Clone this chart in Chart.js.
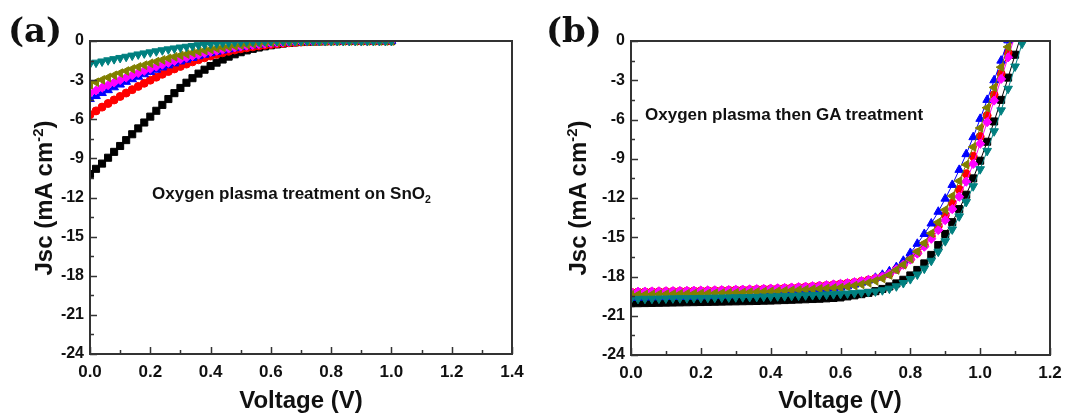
<!DOCTYPE html>
<html>
<head>
<meta charset="utf-8">
<script src="https://cdn.jsdelivr.net/npm/chart.js@4.4.1/dist/chart.umd.min.js"></script>
<style>
body { margin: 0; background: #fff; width: 1072px; height: 417px; overflow: hidden; position: relative; font-family: "Liberation Sans", Arial, sans-serif; }
.panel { position: absolute; top: 0; width: 536px; height: 417px; }
.lbl { position: absolute; font-weight: bold; color: #111; white-space: nowrap; line-height: 1.15; }
.letter { font-family: "DejaVu Serif", serif; font-size: 34px; }
.ytitle { font-size: 24px; transform: translate(-50%, -50%) rotate(-90deg); }
.xtitle { font-size: 24px; transform: translateX(-50%); }
.note { font-size: 17px; }
sup, sub { font-size: 0.62em; line-height: 0; }
</style>
</head>
<body>
<div class="panel" style="left:0"><canvas id="chartA" width="536" height="417"></canvas></div>
<div class="panel" style="left:536px"><canvas id="chartB" width="536" height="417"></canvas></div>

<div class="lbl letter" style="left:8px; top:11px">(a)</div>
<div class="lbl ytitle" style="left:44px; top:198px">Jsc (mA cm<sup>-2</sup>)</div>
<div class="lbl xtitle" style="left:301px; top:386px">Voltage (V)</div>
<div class="lbl note" style="left:152px; top:184px">Oxygen plasma treatment on SnO<sub>2</sub></div>

<div class="lbl letter" style="left:546px; top:11px">(b)</div>
<div class="lbl ytitle" style="left:578px; top:198px">Jsc (mA cm<sup>-2</sup>)</div>
<div class="lbl xtitle" style="left:840px; top:386px">Voltage (V)</div>
<div class="lbl note" style="left:645px; top:105px">Oxygen plasma then GA treatment</div>

<script>
// voltage steps (V), shared by both panels
const volts = [0, 0.02, 0.04, 0.06, 0.08, 0.1, 0.12, 0.14, 0.16, 0.18,
  0.2, 0.22, 0.24, 0.26, 0.28, 0.3, 0.32, 0.34, 0.36, 0.38,
  0.4, 0.42, 0.44, 0.46, 0.48, 0.5, 0.52, 0.54, 0.56, 0.58,
  0.6, 0.62, 0.64, 0.66, 0.68, 0.7, 0.72, 0.74, 0.76, 0.78,
  0.8, 0.82, 0.84, 0.86, 0.88, 0.9, 0.92, 0.94, 0.96, 0.98,
  1.0, 1.02, 1.04, 1.06, 1.08, 1.1, 1.12, 1.14];

// (a) oxygen plasma treatment on SnO2, Jsc in mA cm-2
const a1 = [-10.2, -9.8, -9.4, -8.95, -8.5, -8.05, -7.6, -7.15, -6.7, -6.25, -5.8, -5.35, -4.9, -4.45, -4.0, -3.6, -3.2, -2.85, -2.5, -2.2,
  -1.92, -1.66, -1.42, -1.2, -1.02, -0.86, -0.72, -0.6, -0.5, -0.41, -0.33, -0.26, -0.2, -0.15, -0.11, -0.08, -0.06, -0.04, -0.03, -0.02,
  -0.01, -0.01, 0, 0, 0, 0, 0, 0, 0, 0, 0];
const a2 = [-5.65, -5.36, -5.07, -4.79, -4.52, -4.25, -3.99, -3.73, -3.48, -3.24, -3.0, -2.77, -2.55, -2.34, -2.14, -1.95, -1.77, -1.6, -1.44, -1.29,
  -1.15, -1.02, -0.9, -0.79, -0.69, -0.6, -0.52, -0.45, -0.38, -0.32, -0.27, -0.22, -0.18, -0.14, -0.11, -0.08, -0.06, -0.04, -0.03, -0.02,
  -0.01, 0, 0, 0, 0, 0, 0, 0, 0, 0, 0];
const a3 = [-4.45, -4.22, -3.99, -3.77, -3.55, -3.34, -3.13, -2.93, -2.74, -2.55, -2.37, -2.2, -2.03, -1.87, -1.72, -1.57, -1.43, -1.3, -1.17, -1.05,
  -0.94, -0.83, -0.73, -0.64, -0.55, -0.47, -0.4, -0.34, -0.28, -0.23, -0.18, -0.14, -0.11, -0.08, -0.06, -0.04, -0.03, -0.02, -0.01, 0,
  0, 0, 0, 0, 0, 0, 0, 0, 0, 0, 0];
const a4 = [-4.0, -3.79, -3.58, -3.38, -3.18, -2.99, -2.8, -2.62, -2.45, -2.28, -2.12, -1.96, -1.81, -1.67, -1.53, -1.4, -1.27, -1.15, -1.04, -0.93,
  -0.83, -0.74, -0.65, -0.57, -0.49, -0.42, -0.36, -0.3, -0.25, -0.2, -0.16, -0.12, -0.09, -0.07, -0.05, -0.03, -0.02, -0.01, 0, 0,
  0, 0, 0, 0, 0, 0, 0, 0, 0, 0, 0];
const a5 = [-3.35, -3.16, -2.98, -2.8, -2.63, -2.46, -2.3, -2.14, -1.99, -1.85, -1.71, -1.58, -1.45, -1.33, -1.21, -1.1, -1.0, -0.9, -0.81, -0.72,
  -0.64, -0.56, -0.49, -0.43, -0.37, -0.31, -0.26, -0.21, -0.17, -0.13, -0.1, -0.07, -0.05, -0.03, -0.02, -0.01, 0, 0, 0, 0,
  0, 0, 0, 0, 0, 0, 0, 0, 0, 0, 0];
const a6 = [-1.75, -1.66, -1.57, -1.48, -1.39, -1.3, -1.21, -1.12, -1.03, -0.95, -0.87, -0.79, -0.71, -0.64, -0.57, -0.5, -0.44, -0.38, -0.32, -0.27,
  -0.22, -0.18, -0.14, -0.11, -0.08, -0.06, -0.04, -0.03, -0.02, -0.01, 0, 0, 0, 0, 0, 0, 0, 0, 0, 0,
  0, 0, 0, 0, 0, 0, 0, 0, 0, 0, 0];

// (b) oxygen plasma then GA treatment
const b1 = [-20.05, -20.04, -20.03, -20.02, -20.01, -20.0, -19.99, -19.98, -19.97, -19.96, -19.95, -19.94, -19.93, -19.92, -19.91, -19.9, -19.89, -19.88, -19.87, -19.85,
  -19.84, -19.82, -19.8, -19.78, -19.76, -19.74, -19.72, -19.7, -19.67, -19.64, -19.6, -19.52, -19.44, -19.35, -19.25, -19.12, -18.95, -18.76, -18.53, -18.25,
  -17.92, -17.5, -17.0, -16.35, -15.6, -14.75, -13.85, -12.85, -11.75, -10.5, -9.15, -7.7, -6.15, -4.5, -2.8, -1.05, 0.7];
const b2 = [-19.2, -19.19, -19.18, -19.17, -19.16, -19.15, -19.14, -19.13, -19.12, -19.11, -19.1, -19.09, -19.08, -19.07, -19.06, -19.04, -19.03, -19.01, -18.99, -18.97,
  -18.95, -18.93, -18.9, -18.87, -18.84, -18.8, -18.76, -18.72, -18.68, -18.63, -18.58, -18.52, -18.45, -18.37, -18.27, -18.15, -17.99, -17.8, -17.45, -17.1,
  -16.68, -16.2, -15.6, -14.92, -14.16, -13.32, -12.38, -11.34, -10.15, -8.8, -7.3, -5.7, -4.1, -2.5, -0.9, 0.7];
const b3 = [-19.62, -19.61, -19.6, -19.59, -19.58, -19.57, -19.56, -19.55, -19.54, -19.53, -19.51, -19.5, -19.48, -19.46, -19.44, -19.42, -19.4, -19.37, -19.35, -19.32,
  -19.29, -19.26, -19.23, -19.19, -19.15, -19.11, -19.07, -19.02, -18.97, -18.91, -18.85, -18.75, -18.62, -18.47, -18.3, -18.1, -17.87, -17.6, -17.28, -16.8,
  -16.2, -15.5, -14.75, -13.95, -13.05, -12.05, -11.0, -9.85, -8.65, -7.35, -5.95, -4.5, -3.0, -1.5, 0.05];
const b4 = [-19.17, -19.16, -19.15, -19.14, -19.13, -19.12, -19.11, -19.1, -19.09, -19.08, -19.07, -19.06, -19.05, -19.04, -19.03, -19.01, -19.0, -18.98, -18.96, -18.94,
  -18.92, -18.9, -18.87, -18.84, -18.81, -18.78, -18.74, -18.7, -18.66, -18.61, -18.56, -18.5, -18.43, -18.35, -18.26, -18.15, -18.0, -17.78, -17.45, -17.1,
  -16.7, -16.25, -15.72, -15.12, -14.45, -13.7, -12.85, -11.9, -10.75, -9.4, -7.85, -6.2, -4.55, -2.9, -1.25, 0.4];
const b5 = [-19.4, -19.39, -19.38, -19.37, -19.36, -19.35, -19.34, -19.33, -19.32, -19.31, -19.3, -19.29, -19.28, -19.27, -19.25, -19.24, -19.22, -19.2, -19.18, -19.16,
  -19.14, -19.12, -19.09, -19.06, -19.03, -19.0, -18.97, -18.94, -18.91, -18.88, -18.85, -18.78, -18.7, -18.6, -18.48, -18.33, -18.15, -17.88, -17.5, -17.1,
  -16.65, -16.1, -15.45, -14.7, -13.85, -12.9, -11.85, -10.7, -9.45, -8.1, -6.65, -5.1, -3.55, -2.0, -0.45, 1.1];
const b6 = [-19.72, -19.71, -19.7, -19.7, -19.69, -19.68, -19.67, -19.66, -19.66, -19.65, -19.64, -19.63, -19.62, -19.61, -19.6, -19.59, -19.58, -19.57, -19.56, -19.54,
  -19.53, -19.51, -19.5, -19.48, -19.46, -19.44, -19.42, -19.4, -19.38, -19.35, -19.33, -19.3, -19.27, -19.23, -19.19, -19.14, -19.05, -18.93, -18.75, -18.5,
  -18.2, -17.85, -17.4, -16.8, -16.1, -15.3, -14.4, -13.4, -12.3, -11.1, -9.8, -8.4, -6.9, -5.3, -3.65, -1.95, -0.2, 1.55];

const yTicks = [-24, -21, -18, -15, -12, -9, -6, -3, 0];

// one look per series: black squares, red circles, blue up-triangles, magenta diamonds, olive and teal triangles
const colors = ['#000000', '#ff0000', '#0000ff', '#ff00ff', '#808000', '#008080'];
const shapes = ['rect', 'circle', 'triangle', 'rectRot', 'triangle', 'triangle'];
const turns = [0, 0, 0, 0, 270, 180];
const sizes = [5, 4, 5, 4.6, 5, 5];

const fontTick = { family: '"Liberation Sans", Arial, sans-serif', weight: 'bold', size: 17 };

// box round the plot plus Origin style inward ticks
const frameTicks = {
  id: 'frameTicks',
  afterDatasetsDraw(chart, args, opts) {
    const { ctx, chartArea: a, scales: { x, y } } = chart;
    ctx.save();
    ctx.strokeStyle = '#333';
    ctx.lineWidth = 1.5;
    ctx.beginPath();
    const nx = Math.round(x.max / opts.xStep);
    for (let i = 0; i <= nx; i++) {
      const px = Math.round(x.getPixelForValue(i * opts.xStep)) + 0.5;
      ctx.moveTo(px, a.bottom);
      ctx.lineTo(px, a.bottom - (i % 2 === 0 ? 7 : 4));
    }
    const ny = Math.round((y.max - y.min) / opts.yStep);
    for (let i = 0; i <= ny; i++) {
      const py = Math.round(y.getPixelForValue(y.min + i * opts.yStep)) + 0.5;
      ctx.moveTo(a.left, py);
      ctx.lineTo(a.left + (i % 2 === 0 ? 7 : 4), py);
    }
    ctx.stroke();
    ctx.lineWidth = 2;
    ctx.strokeRect(a.left, a.top, a.right - a.left, a.bottom - a.top);
    ctx.restore();
  }
};

function makePanel(id, series, xMax, yWidth, xHeight, padRight) {
  const datasets = series.map((ys, k) => ({
    data: ys.map((j, i) => ({ x: volts[i], y: j })),
    borderColor: colors[k],
    backgroundColor: colors[k],
    borderWidth: 1,
    pointStyle: shapes[k],
    pointRotation: turns[k],
    pointRadius: sizes[k],
    pointBorderWidth: 1,
    order: series.length - k
  }));
  return new Chart(document.getElementById(id), {
    type: 'line',
    data: { datasets: datasets },
    options: {
      responsive: false,
      animation: false,
      layout: { padding: { top: 41, right: padRight, bottom: 0, left: 0 } },
      plugins: { legend: { display: false }, tooltip: { enabled: false }, frameTicks: { xStep: 0.1, yStep: 1.5 } },
      scales: {
        x: {
          type: 'linear', min: 0, max: xMax,
          afterFit: s => { s.height = xHeight; },
          grid: { display: false, drawTicks: false },
          border: { display: false },
          ticks: { stepSize: 0.2, padding: 8, color: '#111', font: fontTick, maxRotation: 0,
            callback: v => v.toFixed(1) }
        },
        y: {
          type: 'linear', min: yTicks[0], max: yTicks[yTicks.length - 1],
          afterFit: s => { s.width = yWidth; },
          grid: { display: false, drawTicks: false },
          border: { display: false },
          afterBuildTicks: s => { s.ticks = yTicks.map(v => ({ value: v })); },
          ticks: { padding: 6, color: '#111', font: { ...fontTick, size: 16 } }
        }
      }
    },
    plugins: [frameTicks]
  });
}

makePanel('chartA', [a1, a2, a3, a4, a5, a6], 1.4, 90, 63, 24);
makePanel('chartB', [b1, b2, b3, b4, b5, b6], 1.2, 95, 62, 22);
</script>
</body>
</html>
